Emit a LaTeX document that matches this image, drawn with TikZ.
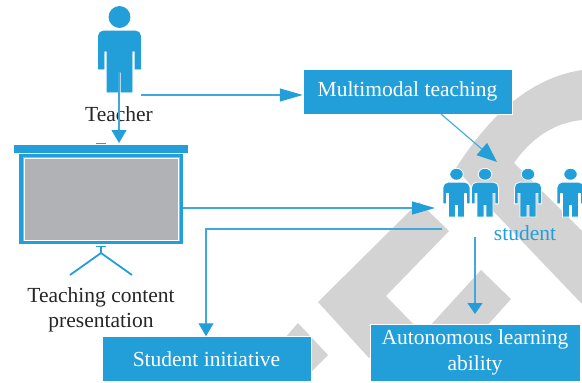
\documentclass[tikz,border=0pt]{standalone}
\usepackage{fontspec}
\setmainfont{Liberation Serif}
\usetikzlibrary{positioning,arrows.meta}
\definecolor{bluebox}{HTML}{229FD9}
\definecolor{blueline}{HTML}{3FA9DC}
\definecolor{greyband}{HTML}{D3D3D3}
\definecolor{greyscreen}{HTML}{B1B2B6}
\tikzset{
  flecha/.style={draw=blueline,line width=1.1pt,-{Triangle[length=23pt,width=13pt,color=bluebox]}},
  flechacorta/.style={draw=blueline,line width=1.1pt,-{Triangle[length=13pt,width=15pt,color=bluebox]}},
  caja/.style={draw=white,line width=0.5pt,fill=bluebox,text=white,align=center,inner sep=0pt,font=\fontsize{21.5}{26}\selectfont},
  rotulo/.style={text=black!85,align=center,inner sep=0pt,font=\fontsize{21.5}{25}\selectfont},
  pics/persona/.style={code={
    \fill[bluebox,draw=#1,line width=0.8pt] (0,-75) circle (10.5);
    \fill[bluebox,draw=#1,line width=0.8pt] (-21,-23) [rounded corners=5pt] -- (-21,-61) -- (21,-61) [sharp corners] -- (21,-23) -- (15.5,-23) -- (15.5,-41)
      -- (12.5,-41) -- (12.5,0) -- (1.5,0) -- (1.5,-20) -- (-1.5,-20) -- (-1.5,0) -- (-12.5,0) -- (-12.5,-41) -- (-15.5,-41) -- (-15.5,-23) -- cycle;
  }}
}
\begin{document}
\begin{tikzpicture}[x=1pt,y=-1pt]
  \useasboundingbox (0,0) rectangle (582,383);
  % fondo
  \fill[greyband] (456,168) .. controls (490,115) and (530,78) .. (582,70) -- (582,120)
    .. controls (552,123) and (530,140) .. (514,163) -- (582,231) -- (582,304) -- (494,212) -- cycle;
  \fill[greyband] (419,202) -- (449,231) -- (386,296) -- (420,331) -- (369,358) -- (318,302) -- cycle;
  \fill[greyband] (481,270) -- (511,299) -- (485,328) -- (428,328) -- cycle;
  \fill[greyband] (298,323) -- (328,355) -- (305,378) -- (270,355) -- cycle;

  % profesor
  \pic at (119.5,92) {persona=bluebox};
  \node[rotulo] (profesor) at (119,114) {Teacher};
  \coordinate (profesorA) at (119,72);
  \coordinate (profesorB) at (141,95);
  \coordinate (barra) at (119,143);

  % pantalla
  \fill[bluebox] (14,144.5) rectangle (188,153);
  \node[draw=bluebox,line width=3.5pt,fill=greyscreen,minimum width=160.5pt,minimum height=87pt,inner sep=0pt] (pantalla) at (101,199) {};
  \draw[white,line width=0.8pt] (24,158.5) rectangle (178.5,240.5);
  \draw[bluebox,line width=0.7pt] (96,143) -- (106,143);
  \draw[bluebox,line width=0.7pt] (96,246) -- (106,246);
  \coordinate (pie) at (101,253);
  \draw[bluebox,line width=1.8pt] (101,247) -- (pie) (70,275) -- (pie) -- (132,275);
  \node[rotulo,below=43pt of pantalla] (contenido) {Teaching content\\presentation};

  % cajas
  \node[caja,minimum width=209pt,minimum height=45pt] (multimodal) at (407.5,91.5) {Multimodal teaching};
  \node[caja,minimum width=209pt,minimum height=45pt] (iniciativa) at (206.5,359) {Student initiative};
  \node[caja,minimum width=210pt,minimum height=57pt] (autonomo) at (475,352.5) {Autonomous learning\\ability};

  % alumnos
  \pic[xscale=0.64,yscale=0.57] at (456.5,217) {persona=white};
  \pic[xscale=0.64,yscale=0.57] at (485,217) {persona=white};
  \pic[xscale=0.64,yscale=0.57] at (528,217) {persona=white};
  \pic[xscale=0.64,yscale=0.57] at (570.5,217) {persona=white};
  \node[inner sep=0pt,text=bluebox,font=\fontsize{21.5}{24}\selectfont] (alumno) at (525,233) {student};
  \coordinate (alumnoA) at (497,162);
  \coordinate (alumnoB) at (435,208);
  \coordinate (alumnoC) at (442,229);
  \coordinate (alumnoD) at (475,237);
  \coordinate (esquina) at (206,229);
  \coordinate (destino) at (475,314);

  \draw[flechacorta] (profesorA) -- (barra);
  \draw[flecha] (profesorB) -- (multimodal.west |- profesorB);
  \draw[flechacorta,-{Triangle[length=20pt,width=16pt,color=bluebox]}] (441,114) -- (alumnoA);
  \draw[flecha] (pantalla.east |- alumnoB) -- (alumnoB);
  \draw[flechacorta] (alumnoC) -- (esquina) -- (iniciativa.north -| esquina);
  \draw[flechacorta,-{Triangle[length=11pt,width=15pt,color=bluebox]}] (alumnoD) -- (destino);
\end{tikzpicture}
\end{document}
